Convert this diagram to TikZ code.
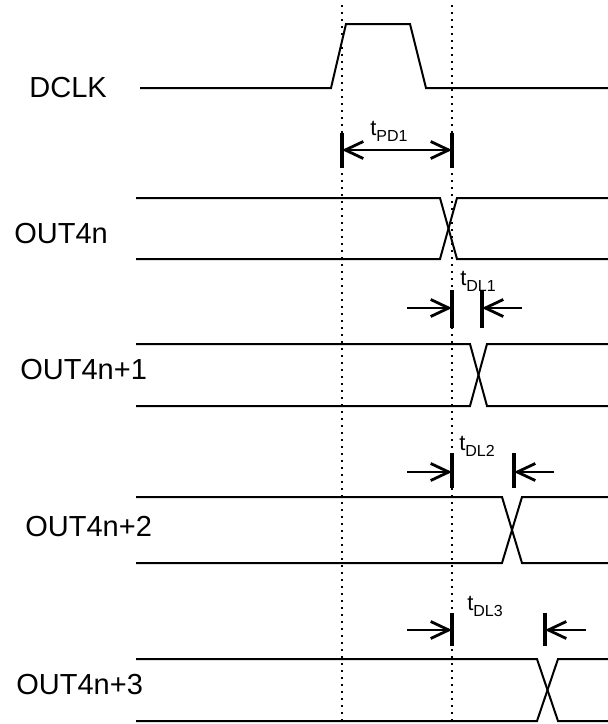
\documentclass[tikz,border=0pt]{standalone}
\usepackage{fontspec}
\setmainfont{Liberation Sans}
\usetikzlibrary{arrows.meta}

\tikzstyle{signame} = [anchor=west, inner sep=0pt, font=\fontsize{14.5}{17}\selectfont]
\tikzstyle{tlabel} = [inner sep=0pt, font=\fontsize{11}{13}\selectfont]
\tikzstyle{wave} = [line width=1pt, line join=miter]
\tikzstyle{guide} = [line width=1.4pt, dash pattern=on 1pt off 2.5pt]
\tikzstyle{dimbar} = [line width=1.8pt]
\tikzstyle{dimline} = [line width=1.4pt, -{Straight Barb[length=9pt,width=8.5pt]}]

\newcommand{\tsub}[1]{t\raisebox{-3pt}{\fontsize{8}{9}\selectfont #1}}

\begin{document}
\begin{tikzpicture}[x=0.5pt, y=-0.5pt]
        \useasboundingbox (0,0) rectangle (608,724);

        % dotted reference lines
        \draw[guide] (342,5) -- (342,724);
        \draw[guide] (452,5) -- (452,724);

        % clock
        \node[signame] (dclk) at (29,88) {DCLK};
        \draw[wave] (140,88) -- (331,88) -- (346,24) -- (410,24) -- (426,88) -- (608,88);

        % outputs
        \foreach \name/\lab/\lx/\ly/\hi/\lo/\xa/\xb in {
            out0/OUT4n/14/234/198/259/440/457,
            out1/OUT4n+1/20/370/344/406/470/487,
            out2/OUT4n+2/25/527/497/563/502/522,
            out3/OUT4n+3/16/685/659/721/537/558}{
            \node[signame] (\name) at (\lx,\ly) {\lab};
            \draw[wave] (136,\hi) -- (\xa,\hi) -- (\xb,\lo) -- (608,\lo);
            \draw[wave] (136,\lo) -- (\xa,\lo) -- (\xb,\hi) -- (608,\hi);
        }

        % propagation delay
        \coordinate (pdL) at (342,150);
        \coordinate (pdR) at (452,150);
        \node[tlabel] (tpd1) at (389,131) {\tsub{PD1}};
        \draw[dimbar] (342,133) -- (342,168);
        \draw[dimbar] (452,133) -- (452,168);
        \draw[dimline, {Straight Barb[length=9pt,width=8.5pt]}-{Straight Barb[length=9pt,width=8.5pt]}] (pdL) -- (pdR);

        % output delays
        \foreach \n/\y/\ya/\yb/\xr/\xe/\tx/\ty in {
            1/308/290/328/482/522/478/281,
            2/472/453/488/514/554/477/446,
            3/630/613/646/545/586/485/606}{
            \coordinate (dl\n a) at (407,\y);
            \coordinate (dl\n b) at (452,\y);
            \coordinate (dl\n c) at (\xe,\y);
            \coordinate (dl\n d) at (\xr,\y);
            \node[tlabel] (tdl\n) at (\tx,\ty) {\tsub{DL\n}};
            \draw[dimbar] (452,\ya) -- (452,\yb);
            \draw[dimbar] (\xr,\ya) -- (\xr,\yb);
            \draw[dimline] (dl\n a) -- (dl\n b);
            \draw[dimline] (dl\n c) -- (dl\n d);
        }
\end{tikzpicture}
\end{document}
